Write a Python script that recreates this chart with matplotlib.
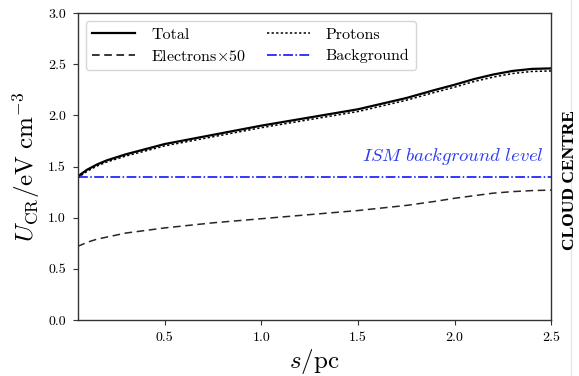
import matplotlib
matplotlib.use("Agg")
import matplotlib.pyplot as plt
from matplotlib.lines import Line2D

plt.rcParams['mathtext.fontset'] = 'cm'
plt.rcParams['font.family'] = 'serif'
plt.rcParams['font.serif'] = ['cmr10', 'DejaVu Serif']
plt.rcParams['axes.formatter.use_mathtext'] = True

# data
s = [0.05, 0.07, 0.1, 0.15, 0.2, 0.3, 0.4, 0.5, 0.75, 1.0, 1.25, 1.5, 1.75, 1.9, 2.0, 2.1, 2.2, 2.3, 2.4, 2.5]
total = [1.40, 1.43, 1.47, 1.52, 1.56, 1.62, 1.67, 1.72, 1.81, 1.90, 1.98, 2.06, 2.17, 2.25, 2.30, 2.355, 2.40, 2.435, 2.455, 2.46]
protons = [1.385, 1.415, 1.455, 1.505, 1.544, 1.603, 1.652, 1.702, 1.791, 1.880, 1.959, 2.038, 2.148, 2.227, 2.276, 2.331, 2.375, 2.41, 2.43, 2.435]
electrons_x50 = [0.72, 0.735, 0.76, 0.79, 0.81, 0.85, 0.875, 0.90, 0.95, 0.99, 1.03, 1.07, 1.12, 1.16, 1.19, 1.215, 1.24, 1.255, 1.265, 1.27]
background = 1.40
xlim = (0.05, 2.5)
ylim = (0.0, 3.0)
xticks = [0.5, 1.0, 1.5, 2.0, 2.5]
yticks = [0.0, 0.5, 1.0, 1.5, 2.0, 2.5, 3.0]

fig = plt.figure(figsize=(5.79, 3.76), dpi=100)
ax = fig.add_axes([0.134, 0.149, 0.818, 0.816])

ax.plot(s, total, color='black', lw=1.6, ls='-', label='Total')
ax.plot(s, electrons_x50, color='black', lw=1.1, ls=(0, (5, 3)), alpha=0.85, label=r'Electrons$\times$50')
ax.plot(s, protons, color='black', lw=1.1, ls=(0, (1.5, 1.5)), label='Protons')
ax.axhline(background, color='blue', lw=1.1, ls='-.', label='Background')
ax.axvline(2.5, color='red', lw=0.6, ls=':', alpha=0.7)

ax.text(2.46, background + 0.1, r'$\mathit{ISM\ background\ level}$', color='#2b3cf0',
        fontsize=13.5, ha='right', va='bottom')

ax.set_xlim(*xlim)
ax.set_ylim(*ylim)
ax.set_xticks(xticks)
ax.set_yticks(yticks)
ax.set_xticklabels([f'{v:.1f}' for v in xticks])
ax.set_yticklabels([f'{v:.1f}' for v in yticks])
ax.tick_params(labelsize=10, length=3.5, width=0.8, color='#333333', pad=5)
for sp in ax.spines.values():
    sp.set_linewidth(1.0)
    sp.set_color('#333333')

ax.set_xlabel(r'$s/{\rm pc}$', fontsize=18, labelpad=2)
ax.set_ylabel(r'$U_{\rm CR}/{\rm eV\ cm^{-3}}$', fontsize=18, labelpad=4)

handles = [Line2D([], [], color='black', lw=1.6, ls='-'),
           Line2D([], [], color='black', lw=1.1, ls=(0, (5, 3))),
           Line2D([], [], color='black', lw=1.1, ls=(0, (1.5, 1.5))),
           Line2D([], [], color='blue', lw=1.1, ls='-.')]
labels = ['Total', r'Electrons$\times$50', 'Protons', 'Background']
ax.legend(handles, labels, loc='upper left', ncol=2, fontsize=11.5, frameon=True,
          fancybox=True, edgecolor='#cccccc', handlelength=2.7, handletextpad=1.0,
          columnspacing=1.3, labelspacing=0.45, borderaxespad=0.5,
          bbox_to_anchor=(0.0, 1.0))

fig.add_artist(Line2D([571/579, 571/579], [0, 1], color='#e6e6e6', lw=1.0))
fig.text(570/579, 1 - 180/376, 'CLOUD CENTRE', rotation=90, ha='center', va='center',
         fontsize=12.5, fontweight='bold', family='Liberation Serif')

fig.savefig('out.png', dpi=100)
